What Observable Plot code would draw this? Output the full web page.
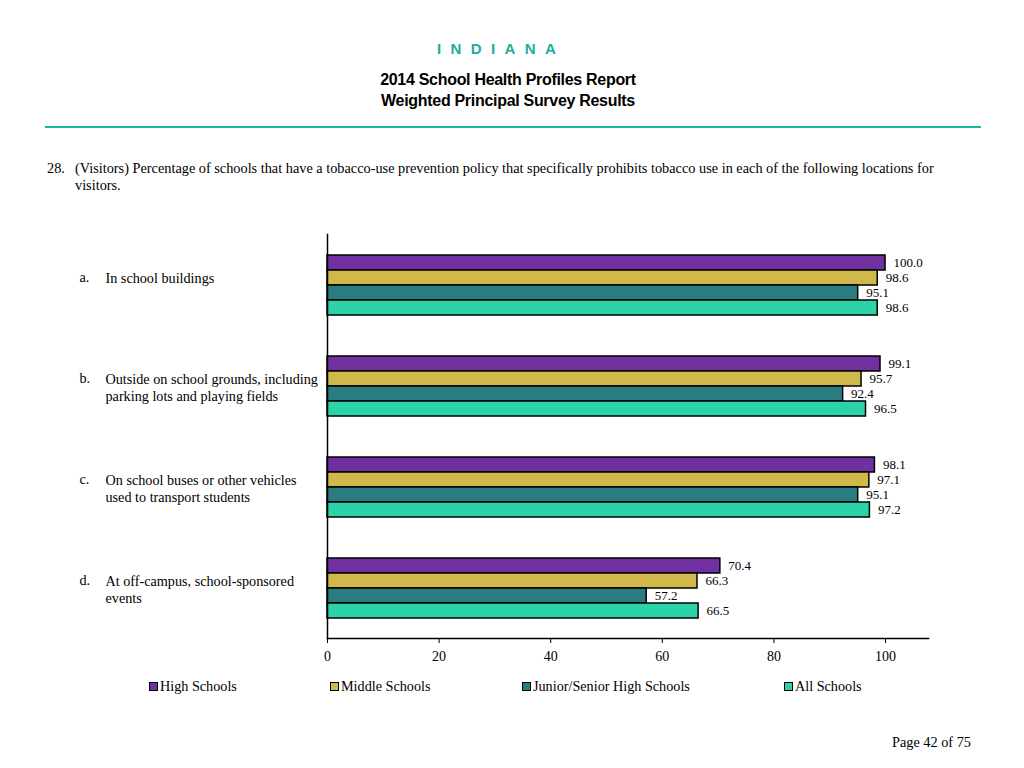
<!DOCTYPE html>
<html>
<head>
<meta charset="utf-8">
<script src="https://cdn.jsdelivr.net/npm/d3@7"></script>
<script src="https://cdn.jsdelivr.net/npm/@observablehq/plot@0.6"></script>
<style>
  html, body { margin: 0; padding: 0; background: #fff; }
  #page { position: relative; width: 1024px; height: 768px; overflow: hidden; font-family: "Liberation Serif", "Times New Roman", serif; color: #000; }
  .abs { position: absolute; white-space: nowrap; }
  #state { left: 437px; top: 40px; font-family: "Liberation Sans", Arial, sans-serif; font-weight: bold; font-size: 15px; color: #1aae9c; letter-spacing: 9.4px; }
  .hdr { left: -4px; width: 1024px; text-align: center; font-family: "Liberation Sans", Arial, sans-serif; font-weight: bold; font-size: 16px; letter-spacing: -0.3px; }
  #rule { left: 45px; top: 126px; width: 936px; height: 2px; background: #1db39f; }
  .q { font-size: 14.3px; }
  #chart { position: absolute; left: 0; top: 220px; }
  .leg { position: absolute; top: 678px; font-size: 14.2px; display: flex; align-items: center; }
  .leg .sw { width: 7px; height: 7px; border: 1px solid #000; margin-right: 2px; }
</style>
</head>
<body>
<div id="page">
  <div id="state" class="abs">INDIANA</div>
  <div class="abs hdr" style="top:71px">2014 School Health Profiles Report</div>
  <div class="abs hdr" style="top:92px">Weighted Principal Survey Results</div>
  <div id="rule" class="abs"></div>
  <div class="abs q" style="left:47px;top:160px">28.</div>
  <div class="abs q" style="left:75px;top:160px">(Visitors) Percentage of schools that have a tobacco-use prevention policy that specifically prohibits tobacco use in each of the following locations for</div>
  <div class="abs q" style="left:75px;top:177px">visitors.</div>
  <div id="chart"></div>
  <div id="legend"></div>
  <div class="abs q" style="right:53px;top:734px">Page 42 of 75</div>
</div>
<script>
// ---- data ----
const categories = ["a", "b", "c", "d"];
const letters = ["a.", "b.", "c.", "d."];
const labels = [
  "In school buildings",
  "Outside on school grounds, including\nparking lots and playing fields",
  "On school buses or other vehicles\nused to transport students",
  "At off-campus, school-sponsored\nevents"
];
const series = ["High Schools", "Middle Schools", "Junior/Senior High Schools", "All Schools"];
const highSchools = [100.0, 99.1, 98.1, 70.4];
const middleSchools = [98.6, 95.7, 97.1, 66.3];
const juniorSenior = [95.1, 92.4, 95.1, 57.2];
const allSchools = [98.6, 96.5, 97.2, 66.5];
const xTicks = [0, 20, 40, 60, 80, 100];

const colors = ["#7030a0", "#d0b94a", "#2a7c80", "#2dd3a8"];
const seriesValues = [highSchools, middleSchools, juniorSenior, allSchools];

const rows = [];
series.forEach((s, si) => {
  categories.forEach((c, ci) => {
    rows.push({category: c, series: s, si, value: seriesValues[si][ci]});
  });
});
const labelRows = categories.map((c, i) => ({category: c, letter: letters[i], label: labels[i]}));

const barH = 15;
const marks = [];
series.forEach((s, si) => {
  const data = rows.filter(d => d.si === si);
  marks.push(Plot.barX(data, {
    x: "value", y: "category", fill: colors[si], stroke: "#000", strokeWidth: 1.5,
    insetTop: barH * si, insetBottom: barH * (3 - si)
  }));
  marks.push(Plot.text(data, {
    x: "value", y: "category", text: d => d.value.toFixed(1),
    dy: (si - 1.5) * barH, dx: 8, textAnchor: "start",
    fontSize: 13, fill: "#000", stroke: "#fff", strokeWidth: 3, paintOrder: "stroke"
  }));
});

const chart = Plot.plot({
  width: 1024,
  height: 460,
  marginLeft: 327,
  marginRight: 96,
  marginTop: 14,
  marginBottom: 42,
  style: {fontFamily: "'Liberation Serif', 'Times New Roman', serif", fontSize: "14px", background: "transparent", overflow: "visible"},
  x: {domain: [0, 107.7], ticks: xTicks, tickFormat: d => String(d), tickSize: 5, tickPadding: 8, label: null},
  y: {domain: categories, paddingInner: 0.406, paddingOuter: 0.2, axis: null},
  marks: [
    ...marks,
    Plot.frame({anchor: "left", stroke: "#000", strokeWidth: 1.5}),
    Plot.frame({anchor: "bottom", stroke: "#000", strokeWidth: 1.5}),
    Plot.text(labelRows, {y: "category", text: "letter", frameAnchor: "left", dx: -248, dy: -14, textAnchor: "start", lineAnchor: "top", fontSize: 14.2}),
    Plot.text(labelRows, {y: "category", text: "label", frameAnchor: "left", dx: -222, dy: -14, textAnchor: "start", lineAnchor: "top", fontSize: 14.2, lineHeight: 1.17})
  ]
});
document.getElementById("chart").appendChild(chart);

// legend
const legendLeft = [149, 330, 522, 784];
const legend = document.getElementById("legend");
series.forEach((s, i) => {
  const item = document.createElement("div");
  item.className = "leg";
  item.style.left = legendLeft[i] + "px";
  const sw = document.createElement("span");
  sw.className = "sw";
  sw.style.background = colors[i];
  item.appendChild(sw);
  item.appendChild(document.createTextNode(s));
  legend.appendChild(item);
});
</script>
</body>
</html>
